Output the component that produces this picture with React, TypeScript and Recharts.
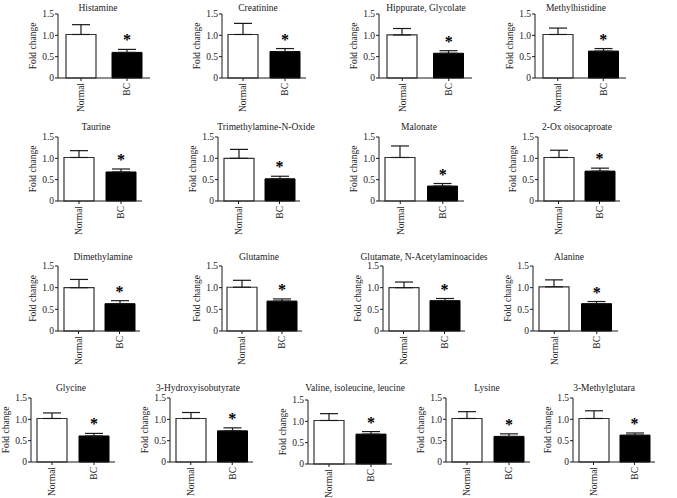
import { BarChart, Bar, Cell, XAxis, YAxis, ErrorBar, ReferenceDot, Label } from "recharts";

const titles = [
  "Histamine",
  "Creatinine",
  "Hippurate, Glycolate",
  "Methylhistidine",
  "Taurine",
  "Trimethylamine-N-Oxide",
  "Malonate",
  "2-Ox oisocaproate",
  "Dimethylamine",
  "Glutamine",
  "Glutamate, N-Acetylaminoacides",
  "Alanine",
  "Glycine",
  "3-Hydroxyisobutyrate",
  "Valine, isoleucine, leucine",
  "Lysine",
  "3-Methylglutara",
];
const groups = ["Normal", "BC"];
const normalMean = [1.02, 1.02, 1.01, 1.02, 1.02, 1.0, 1.02, 1.02, 1.0, 1.01, 1.0, 1.02, 1.02, 1.02, 1.02, 1.02, 1.02];
const normalErr = [0.23, 0.26, 0.15, 0.15, 0.16, 0.21, 0.27, 0.17, 0.19, 0.16, 0.13, 0.16, 0.13, 0.14, 0.16, 0.16, 0.18];
const bcMean = [0.6, 0.62, 0.58, 0.63, 0.68, 0.52, 0.35, 0.7, 0.63, 0.69, 0.7, 0.63, 0.61, 0.73, 0.7, 0.6, 0.63];
const bcErr = [0.07, 0.07, 0.06, 0.06, 0.07, 0.06, 0.06, 0.07, 0.07, 0.05, 0.05, 0.05, 0.06, 0.07, 0.06, 0.06, 0.05];
const yTicks = [0, 0.5, 1, 1.5];

// x = y-axis position, top/bottom = plot edges, w = plot width, tx/ty = title centre
const layout = [
  { x: 58, top: 14, bottom: 78, w: 92, tx: 98, ty: 8.5 },
  { x: 222, top: 14, bottom: 78, w: 84, tx: 258, ty: 8.5 },
  { x: 379, top: 14, bottom: 78, w: 93, tx: 426, ty: 8.5 },
  { x: 535, top: 14, bottom: 78, w: 91, tx: 576, ty: 8.5 },
  { x: 58, top: 137, bottom: 201, w: 84, tx: 96, ty: 128 },
  { x: 218, top: 137, bottom: 201, w: 82, tx: 266, ty: 128 },
  { x: 379, top: 137, bottom: 201, w: 85, tx: 419, ty: 128 },
  { x: 538, top: 137, bottom: 201, w: 82, tx: 577, ty: 128 },
  { x: 58, top: 266, bottom: 331, w: 82, tx: 103, ty: 258 },
  { x: 222, top: 266, bottom: 331, w: 80, tx: 259, ty: 258 },
  { x: 383, top: 266, bottom: 331, w: 82, tx: 424, ty: 258 },
  { x: 533, top: 266, bottom: 331, w: 85, tx: 569, ty: 258 },
  { x: 31, top: 398, bottom: 462, w: 84, tx: 71, ty: 389 },
  { x: 170, top: 398, bottom: 462, w: 83, tx: 198, ty: 389 },
  { x: 308, top: 400, bottom: 464, w: 84, tx: 355, ty: 389 },
  { x: 446, top: 398, bottom: 462, w: 84, tx: 487, ty: 389 },
  { x: 573, top: 398, bottom: 462, w: 82, tx: 604, ty: 389 },
];

const FONT = "'Liberation Serif', 'Times New Roman', Times, serif";
const INK = "#1a1a1a";
const YW = 32;
const PT = 6;
const PR = 4;
const XH = 44;

const XTick = (props: any) => {
  const { x, y, payload } = props;
  return (
    <text
      x={x}
      y={y}
      transform={`rotate(-90, ${x}, ${y})`}
      textAnchor="end"
      dy="0.35em"
      fontSize={9.5}
      fontFamily={FONT}
      fill={INK}
    >
      {payload.value}
    </text>
  );
};

const YLabel = (props: any) => {
  const vb = props.viewBox;
  const cx = vb.x + vb.width - 25;
  const cy = vb.y + vb.height / 2;
  return (
    <text
      x={cx}
      y={cy}
      transform={`rotate(-90, ${cx}, ${cy})`}
      textAnchor="middle"
      dy="0.35em"
      fontSize={9.5}
      fontFamily={FONT}
      fill={INK}
    >
      Fold change
    </text>
  );
};

const Star = (props: any) => (
  <text x={props.cx} y={props.cy - 4} textAnchor="middle" fontSize={16} fontWeight="bold" fontFamily={FONT} fill="#000">
    *
  </text>
);

function Panel({ i }: { i: number }) {
  const L = layout[i];
  const plotH = L.bottom - L.top;
  const rows = [
    { name: groups[0], mean: normalMean[i], err: [0, normalErr[i]] },
    { name: groups[1], mean: bcMean[i], err: [0, bcErr[i]] },
  ];
  return (
    <>
      <div
        style={{
          position: "absolute",
          left: L.tx,
          top: L.ty,
          transform: "translate(-50%, -50%)",
          whiteSpace: "nowrap",
          fontFamily: FONT,
          fontSize: 9.5,
          color: INK,
          lineHeight: 1,
        }}
      >
        {titles[i]}
      </div>
      <div style={{ position: "absolute", left: L.x - YW, top: L.top - PT }}>
        <BarChart
          width={YW + L.w + PR}
          height={PT + plotH + XH}
          data={rows}
          margin={{ top: PT, right: PR, bottom: 0, left: 0 }}
        >
          <XAxis
            dataKey="name"
            interval={0}
            height={XH}
            tick={<XTick />}
            tickSize={3}
            tickMargin={2}
            axisLine={{ stroke: INK }}
            tickLine={{ stroke: INK }}
          />
          <YAxis
            domain={[0, 1.5]}
            ticks={yTicks}
            width={YW}
            tickSize={3}
            tickMargin={1}
            tickFormatter={(v: number) => (v === 0 ? "0" : v.toFixed(1))}
            tick={{ fontSize: 9.5, fontFamily: FONT, fill: INK }}
            axisLine={{ stroke: INK }}
            tickLine={{ stroke: INK }}
          >
            <Label content={YLabel} />
          </YAxis>
          <Bar dataKey="mean" barSize={30} isAnimationActive={false}>
            <Cell fill="#ffffff" stroke="#333" strokeWidth={1.2} />
            <Cell fill="#000000" stroke="#000" strokeWidth={1} />
            <ErrorBar dataKey="err" width={9} stroke={INK} strokeWidth={1.2} direction="y" />
          </Bar>
          <ReferenceDot x={groups[1]} y={bcMean[i] + bcErr[i]} r={0} shape={Star} ifOverflow="visible" />
        </BarChart>
      </div>
    </>
  );
}

export default function App() {
  return (
    <div style={{ position: "absolute", left: 0, top: 0, width: 677, height: 498, background: "#fff", overflow: "hidden" }}>
      {titles.map((_, i) => (
        <Panel key={i} i={i} />
      ))}
    </div>
  );
}
